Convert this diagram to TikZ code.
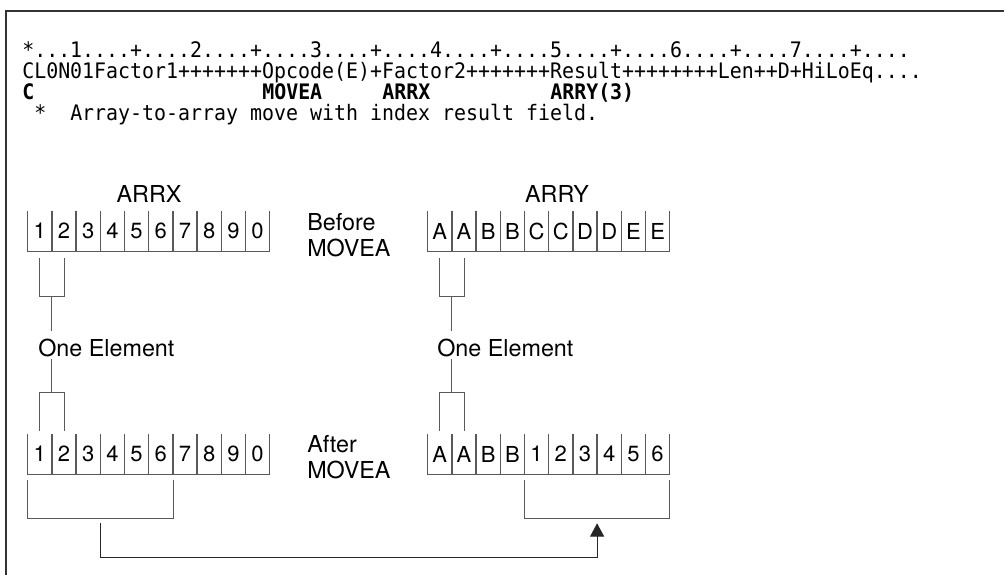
\documentclass[tikz,border=0pt]{standalone}
\usepackage{fontspec}
\setmainfont{TeX Gyre Heros}
\setmonofont[FakeStretch=0.934]{DejaVu Sans Mono}
\usetikzlibrary{arrows.meta, positioning, calc}

\begin{document}
\begin{tikzpicture}[x=0.75pt, y=-0.75pt]
\tikzstyle{codeline} = [anchor=base west, inner sep=0pt, font=\fontsize{16}{18}\selectfont\ttfamily]
\tikzstyle{boldcode} = [codeline, font=\fontsize{16}{18}\selectfont\ttfamily\bfseries]
\tikzstyle{cell} = [rectangle, minimum width=18.15pt, minimum height=30pt, inner sep=0pt, font=\fontsize{16.5}{18}\selectfont]
\tikzstyle{txt} = [inner sep=0pt, font=\fontsize{17.5}{20}\selectfont]
\tikzstyle{oneel} = [txt, anchor=base west, inner ysep=2.25pt, text height=16.3pt, text depth=0pt]
\tikzstyle{wire} = [draw=black!65, line width=0.75pt]
\tikzstyle{movearrow} = [draw=black!85, line width=0.9pt, -{Triangle[length=10pt, width=10.5pt]}]
\useasboundingbox (0,0) rectangle (1004,575);
\draw[line width=1.2pt, black!80] (6,575) -- (6,11) -- (1004,11);
% code lines
\node[codeline] (ruler) at (22,57.5) {*...1....+....2....+....3....+....4....+....5....+....6....+....7....+....};
\node[codeline] (spec) at (22,78.5) {CL0N01Factor1+++++++Opcode(E)+Factor2+++++++Result++++++++Len++D+HiLoEq....};
\node[boldcode] (cspec) at (22,99.5) {C};
\node[boldcode] (opcode) at (262,99.5) {MOVEA};
\node[boldcode] (fac2) at (382,99.5) {ARRX};
\node[boldcode] (result) at (550,99.5) {ARRY(3)};
\node[codeline] (comment) at (34,120) {*~~Array-to-array move with index result field.};
% arrays before
\node[txt, anchor=base] (arrx) at (149,202) {ARRX};
\node[txt, anchor=base] (arry) at (557,202) {ARRY};
\foreach \v [count=\i] in {1,2,3,4,5,6,7,8,9,0} {
  \node[cell] (xa\i) at ({15.6+24.2*\i},231) {\v};
  \draw[wire] (xa\i.north west) |- (xa\i.south east) -- (xa\i.north east);
}
\foreach \v [count=\i] in {A,A,B,B,C,C,D,D,E,E} {
  \node[cell] (ya\i) at ({415.6+24.2*\i},231) {\v};
  \draw[wire] (ya\i.north west) |- (ya\i.south east) -- (ya\i.north east);
}
\node[txt, anchor=base west] (before) at (307,230) {Before};
\node[txt, anchor=base west] (beforeop) at (307,256) {MOVEA};
% arrays after
\foreach \v [count=\i] in {1,2,3,4,5,6,7,8,9,0} {
  \node[cell] (xb\i) at ({15.6+24.2*\i},454) {\v};
  \draw[wire] (xb\i.north west) |- (xb\i.south east) -- (xb\i.north east);
}
\foreach \v [count=\i] in {A,A,B,B,1,2,3,4,5,6} {
  \node[cell] (yb\i) at ({415.6+24.2*\i},454) {\v};
  \draw[wire] (yb\i.north west) |- (yb\i.south east) -- (yb\i.north east);
}
\node[txt, anchor=base west] (after) at (307,452) {After};
\node[txt, anchor=base west] (afterop) at (307,478) {MOVEA};
% one element
\node[oneel] (oex) at (38,356) {One Element};
\node[oneel] (oey) at (437,356) {One Element};
\coordinate (xsplit) at ($(xa1.south)!0.5!(xa2.south)+(0,45)$);
\coordinate (ysplit) at ($(ya1.south)!0.5!(ya2.south)+(0,45)$);
\coordinate (xjoin) at ($(xb1.north)!0.5!(xb2.north)+(0,-41)$);
\coordinate (yjoin) at ($(yb1.north)!0.5!(yb2.north)+(0,-41)$);
\draw[wire] ($(xa1.south)+(0,7)$) |- (xsplit) -| ($(xa2.south)+(0,7)$);
\draw[wire] ($(ya1.south)+(0,7)$) |- (ysplit) -| ($(ya2.south)+(0,7)$);
\draw[wire] (xsplit) -- (xsplit |- oex.north);
\draw[wire] (ysplit) -- (ysplit |- oey.north);
\draw[wire] (xjoin |- oex.south) -- (xjoin);
\draw[wire] (yjoin |- oey.south) -- (yjoin);
\draw[wire] ($(xb1.north)+(0,-3)$) |- (xjoin) -| ($(xb2.north)+(0,-3)$);
\draw[wire] ($(yb1.north)+(0,-3)$) |- (yjoin) -| ($(yb2.north)+(0,-3)$);
% moved part
\coordinate (xgrab) at ($(xb1.south west)!0.5!(xb6.south east)+(0,44)$);
\coordinate (ygrab) at ($(yb5.south west)!0.5!(yb10.south east)+(0,44)$);
\draw[wire] ($(xb1.south west)+(0,6)$) |- (xgrab) -| ($(xb6.south east)+(0,6)$);
\draw[wire] ($(yb5.south west)+(0,6)$) |- (ygrab) -| ($(yb10.south east)+(0,6)$);
\coordinate (movefrom) at ($(xgrab)+(0,5)$);
\coordinate (moveto) at ($(ygrab)+(0,5)$);
\draw[movearrow] (movefrom) -- ++(0,34) -| (moveto);
\end{tikzpicture}
\end{document}
